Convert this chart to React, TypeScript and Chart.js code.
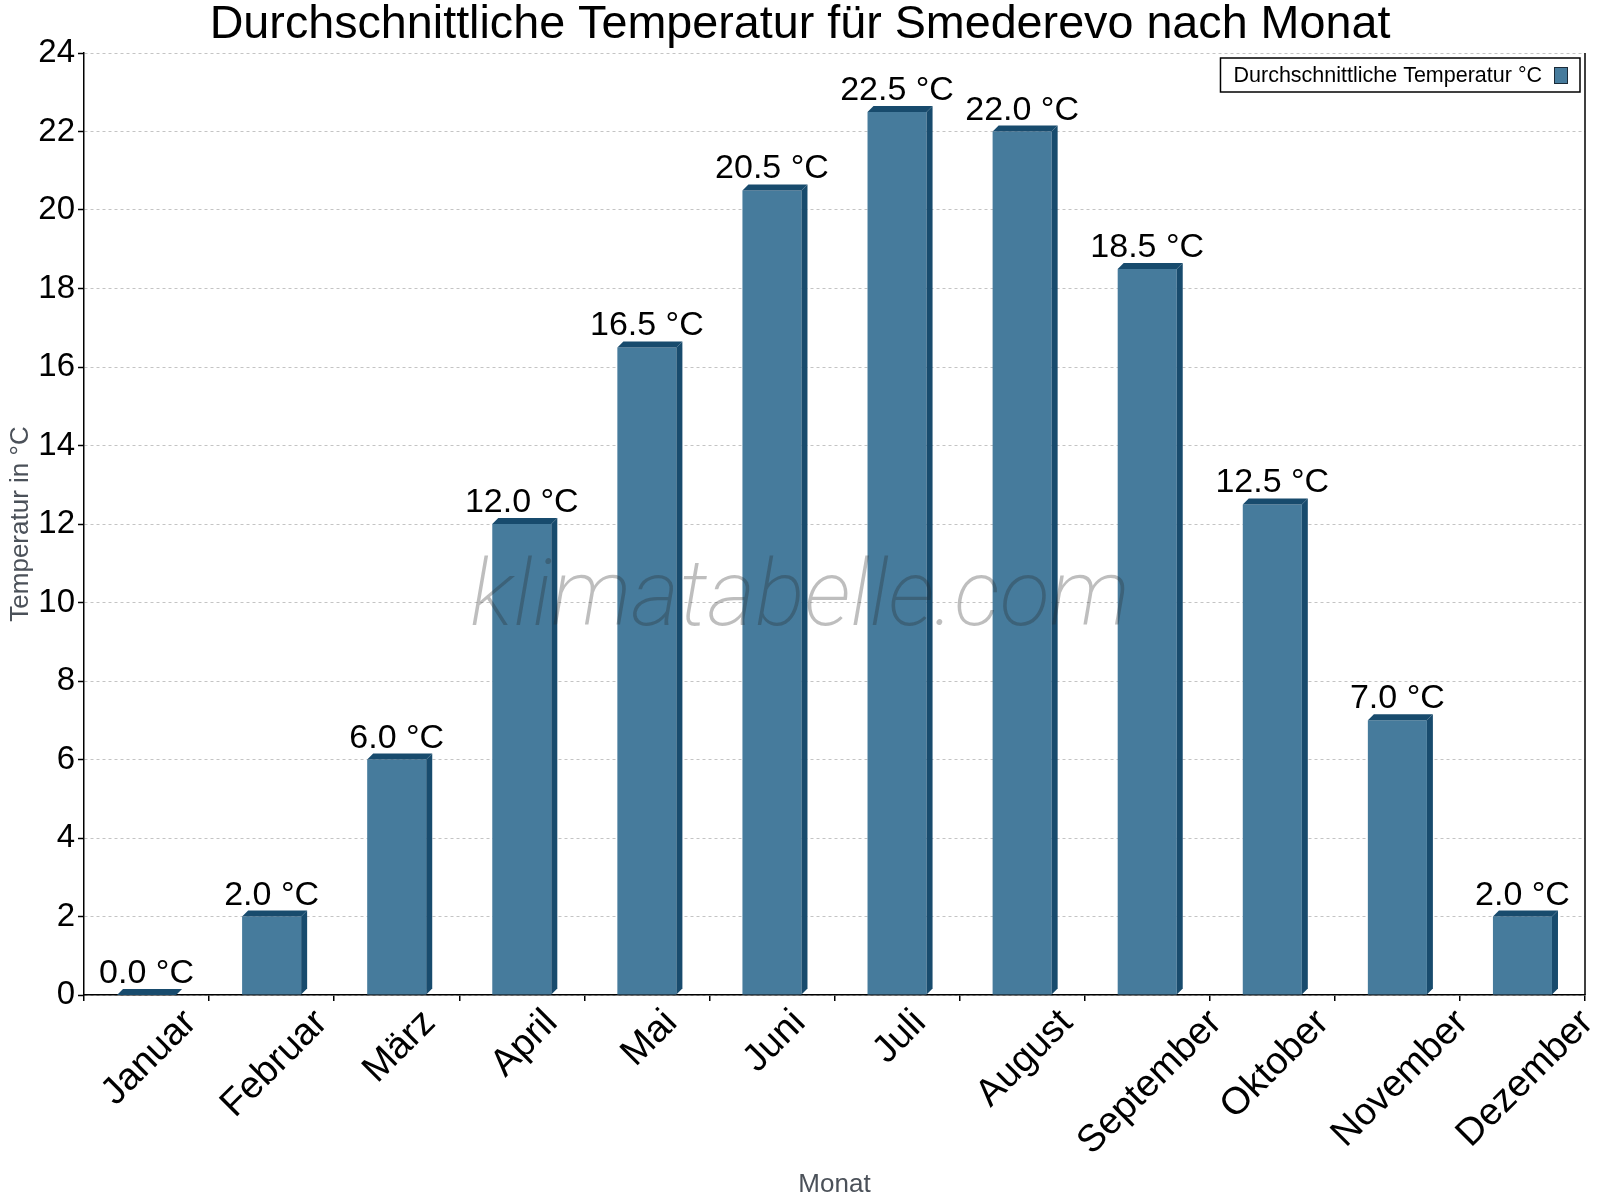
import { useEffect, useRef } from 'react';
import { Chart, registerables } from 'chart.js';

Chart.register(...registerables);

// data
const months = [
  'Januar', 'Februar', 'März', 'April', 'Mai', 'Juni',
  'Juli', 'August', 'September', 'Oktober', 'November', 'Dezember',
];
const avgTemps = [0, 2, 6, 12, 16.5, 20.5, 22.5, 22, 18.5, 12.5, 7, 2];
const yMin = 0;
const yMax = 24;
const yStep = 2;

const chartTitle = 'Durchschnittliche Temperatur für Smederevo nach Monat';
const seriesLabel = 'Durchschnittliche Temperatur °C';
const xTitle = 'Monat';
const yTitle = 'Temperatur in °C';
const watermark = 'klimatabelle.com';

const FONT = '"Liberation Sans", Arial, sans-serif';
const FRONT = '#467b9c';
const DARK = '#184b6d';
const DEPTH = 6;
const XLABEL_SIZE = 38;

// fake 3D: top face, right side and the value label of every bar
const barDecor = {
  id: 'barDecor',
  afterDatasetsDraw(chart: any) {
    const { ctx } = chart;
    const meta = chart.getDatasetMeta(0);
    ctx.save();
    meta.data.forEach((bar: any, i: number) => {
      const { x, y, base, width } = bar.getProps(['x', 'y', 'base', 'width'], true);
      const l = x - width / 2;
      const r = x + width / 2;
      ctx.fillStyle = DARK;
      ctx.beginPath();
      ctx.moveTo(l, y);
      ctx.lineTo(l + DEPTH, y - DEPTH);
      ctx.lineTo(r + DEPTH, y - DEPTH);
      ctx.lineTo(r, y);
      ctx.closePath();
      ctx.fill();
      if (base - y > 0) {
        ctx.beginPath();
        ctx.moveTo(r, y);
        ctx.lineTo(r + DEPTH, y - DEPTH);
        ctx.lineTo(r + DEPTH, base - DEPTH);
        ctx.lineTo(r, base);
        ctx.closePath();
        ctx.fill();
      }
      ctx.fillStyle = '#000';
      ctx.font = `34px ${FONT}`;
      ctx.textAlign = 'center';
      ctx.textBaseline = 'alphabetic';
      ctx.fillText(`${avgTemps[i].toFixed(1)} °C`, x, y - DEPTH - 6);
    });
    ctx.restore();
  },
  afterDraw(chart: any) {
    const { ctx, chartArea, width } = chart;
    const xScale = chart.scales.x;
    ctx.save();
    // right frame line
    ctx.strokeStyle = '#000';
    ctx.lineWidth = 1.5;
    ctx.beginPath();
    ctx.moveTo(chartArea.right, chartArea.top);
    ctx.lineTo(chartArea.right, chartArea.bottom);
    ctx.stroke();

    // month labels, rotated 45° with their box centred under the category
    ctx.font = `${XLABEL_SIZE}px ${FONT}`;
    ctx.fillStyle = '#000';
    ctx.textAlign = 'center';
    ctx.textBaseline = 'alphabetic';
    const asc = 0.905 * XLABEL_SIZE;
    const desc = 0.212 * XLABEL_SIZE;
    const top = chartArea.bottom + 5;
    months.forEach((m, i) => {
      const cx = xScale.getPixelForTick(i) + 1;
      const len = ctx.measureText(m).width;
      const cy = top + 0.3536 * (len + asc + desc);
      ctx.save();
      ctx.translate(cx, cy);
      ctx.rotate(-Math.PI / 4);
      ctx.fillText(m, 0, (asc - desc) / 2);
      ctx.restore();
    });

    // watermark
    ctx.font = `italic 200 92.5px Roboto, ${FONT}`;
    ctx.fillStyle = 'rgba(40,40,40,0.3)';
    ctx.textAlign = 'center';
    ctx.textBaseline = 'alphabetic';
    ctx.fillText(watermark, width / 2, 625);

    // legend box in the top right corner
    ctx.font = `21.5px ${FONT}`;
    const tw = ctx.measureText(seriesLabel).width;
    const boxR = chartArea.right - 5;
    const boxT = chartArea.top + 5;
    const swR = boxR - 12;
    const swL = swR - 14;
    const textR = swL - 12;
    const boxL = textR - tw - 13;
    ctx.fillStyle = '#fff';
    ctx.fillRect(boxL, boxT, boxR - boxL, 34);
    ctx.strokeStyle = '#000';
    ctx.lineWidth = 1.5;
    ctx.strokeRect(boxL, boxT, boxR - boxL, 34);
    ctx.fillStyle = '#000';
    ctx.textAlign = 'left';
    ctx.fillText(seriesLabel, boxL + 13, boxT + 24);
    ctx.fillStyle = FRONT;
    ctx.fillRect(swL, boxT + 9, 14, 17);
    ctx.strokeStyle = '#1b2b38';
    ctx.lineWidth = 1;
    ctx.strokeRect(swL + 0.5, boxT + 9.5, 13, 16);
    ctx.restore();
  },
};

export default function App() {
  const canvasRef = useRef<HTMLCanvasElement>(null);
  const chartRef = useRef<Chart | null>(null);

  useEffect(() => {
    if (!canvasRef.current) return;
    if (chartRef.current) chartRef.current.destroy();

    chartRef.current = new Chart(canvasRef.current, {
      type: 'bar',
      data: {
        labels: months,
        datasets: [
          {
            label: seriesLabel,
            data: avgTemps,
            backgroundColor: FRONT,
            borderWidth: 0,
            categoryPercentage: 1,
            barPercentage: 0.472,
          },
        ],
      },
      options: {
        animation: false,
        responsive: true,
        maintainAspectRatio: false,
        devicePixelRatio: 1,
        layout: { padding: 0 },
        plugins: {
          legend: { display: false },
          tooltip: { enabled: false },
          title: {
            display: true,
            text: chartTitle,
            color: '#000',
            font: { family: FONT, size: 46.7, weight: 'normal', lineHeight: 41 / 46.7 },
            padding: { top: 5, bottom: 7 },
          },
        },
        scales: {
          x: {
            offset: true,
            grid: {
              display: true,
              offset: true,
              drawOnChartArea: false,
              drawTicks: true,
              tickLength: 6,
              color: '#000',
              lineWidth: 1.5,
            },
            border: { color: '#000', width: 1.5 },
            ticks: { display: false, autoSkip: false },
            title: {
              display: true,
              text: xTitle,
              color: '#4b5159',
              font: { family: FONT, size: 26 },
              padding: { top: 0, bottom: 0 },
            },
            afterFit: (s: any) => {
              s.height = 205;
            },
          },
          y: {
            min: yMin,
            max: yMax,
            ticks: {
              stepSize: yStep,
              color: '#000',
              font: { family: FONT, size: 33 },
              padding: 3,
            },
            grid: {
              color: '#c4c4c4',
              lineWidth: 1,
              tickColor: '#000',
              tickLength: 6,
              tickWidth: 1.5,
              tickBorderDash: [],
            },
            border: { color: '#000', width: 1.5, dash: [3, 3] },
            title: {
              display: true,
              text: yTitle,
              color: '#4b5159',
              font: { family: FONT, size: 26 },
              padding: { top: 5, bottom: 0 },
            },
            afterFit: (s: any) => {
              s.width = 84;
            },
          },
          // empty strip on the right, keeps the title centred on the canvas
          yRight: {
            position: 'right',
            display: true,
            ticks: { display: false },
            grid: { display: false },
            border: { display: false },
            afterFit: (s: any) => {
              s.width = 15;
            },
          },
        },
      },
      plugins: [barDecor],
    });

    return () => {
      if (chartRef.current) {
        chartRef.current.destroy();
        chartRef.current = null;
      }
    };
  }, []);

  return (
    <div style={{ position: 'absolute', left: 0, top: 0, width: 1600, height: 1200, background: '#fff' }}>
      <canvas ref={canvasRef} />
    </div>
  );
}
